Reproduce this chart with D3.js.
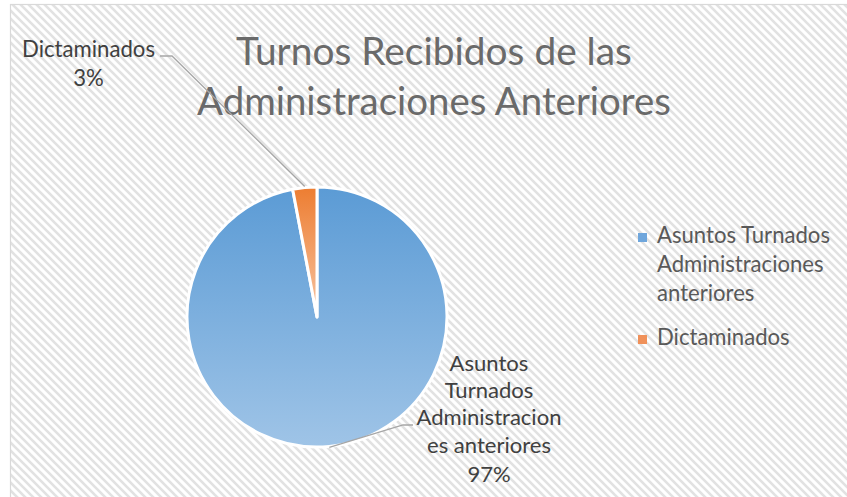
<!DOCTYPE html>
<html>
<head>
<meta charset="utf-8">
<script src="https://cdn.jsdelivr.net/npm/d3@7"></script>
<style>
  html, body { margin: 0; padding: 0; background: #ffffff; }
  svg { display: block; }
  text { font-family: Lato, "Open Sans", sans-serif; }
</style>
</head>
<body>
<svg id="chart" width="847" height="497"></svg>
<script>
// ---- data ----
const categories = ["Asuntos Turnados Administraciones anteriores", "Dictaminados"];
const values = [97, 3];
const titleLines = ["Turnos Recibidos de las", "Administraciones Anteriores"];
const legendLines = [["Asuntos Turnados", "Administraciones", "anteriores"], ["Dictaminados"]];
const labelLines = [["Asuntos", "Turnados", "Administracion", "es anteriores"], ["Dictaminados"]];

// ---- layout ----
const W = 847, H = 497;
const cx = 317, cy = 317, R = 130;
const colorsTop = ["#5b9bd5", "#ed7d31"];
const colorsBot = ["#9fc4e7", "#f7c4a1"];

const svg = d3.select("#chart");
const defs = svg.append("defs");

// hatch pattern
const pat = defs.append("pattern").attr("id", "hatch")
  .attr("patternUnits", "userSpaceOnUse").attr("width", 8).attr("height", 8);
pat.append("rect").attr("width", 8).attr("height", 8).attr("fill", "#ffffff");
pat.append("path").attr("d", "M-2,6 L2,10 M0,0 L8,8 M6,-2 L10,2")
  .attr("stroke", "#e2e2e2").attr("stroke-width", 2.6);

// gradients
categories.forEach((c, i) => {
  const g = defs.append("linearGradient").attr("id", "grad" + i)
    .attr("x1", 0).attr("y1", 0).attr("x2", 0).attr("y2", 1);
  g.append("stop").attr("offset", "0%").attr("stop-color", colorsTop[i]);
  g.append("stop").attr("offset", "100%").attr("stop-color", colorsBot[i]);
});

// background
svg.append("rect").attr("x", 10.5).attr("y", 4.5).attr("width", W + 10).attr("height", H + 10)
  .attr("fill", "url(#hatch)").attr("stroke", "#d9d9d9").attr("stroke-width", 1.2);

function fit(sel, target) {
  const base = 20;
  sel.attr("font-size", base);
  const w = sel.node().getComputedTextLength();
  sel.attr("font-size", base * target / w);
}

// title
const titleWidths = [396, 474];
const titleBase = [65, 115];
titleLines.forEach((t, i) => {
  const s = svg.append("text").attr("x", 434).attr("y", titleBase[i])
    .attr("text-anchor", "middle").attr("fill", "#6a6a6a").text(t);
  fit(s, titleWidths[i]);
});

// pie
const pie = d3.pie().sort(null).value(d => d);
const arcs = pie(values);
const arc = d3.arc().innerRadius(0).outerRadius(R);
const g = svg.append("g").attr("transform", `translate(${cx},${cy})`);
g.selectAll("path").data(arcs).join("path")
  .attr("d", arc)
  .attr("fill", (d, i) => `url(#grad${i})`)
  .attr("stroke", "#ffffff").attr("stroke-width", 3).attr("stroke-linejoin", "round");

// leader lines
const outer = d3.arc().innerRadius(R + 1).outerRadius(R + 1);
const lineColor = "#a6a6a6";
const elbows = [[[403, 425], [413, 425]], [[172, 56], [160, 56]]];
arcs.forEach((d, i) => {
  const c = outer.centroid(d);
  const p0 = [cx + c[0], cy + c[1]];
  svg.append("path")
    .attr("d", d3.line()([p0, elbows[i][0], elbows[i][1]]))
    .attr("fill", "none").attr("stroke", lineColor).attr("stroke-width", 1.3);
});

// data labels
const total = d3.sum(values);
const pct = d3.format(".0%");
const labelColor = "#404040";
const bigX = 489;
const bigBase = [371, 398, 425, 453, 482];
const bigLines = labelLines[0].concat([pct(values[0] / total)]);
const bigTexts = bigLines.map((t, i) => svg.append("text").attr("x", bigX).attr("y", bigBase[i])
    .attr("text-anchor", "middle").attr("fill", labelColor).text(t));
fit(bigTexts[2], 145);
bigTexts.forEach(s => s.attr("font-size", bigTexts[2].attr("font-size")));

const s1 = svg.append("text").attr("x", 88.5).attr("y", 57).attr("text-anchor", "middle")
  .attr("fill", labelColor).text(labelLines[1][0]);
fit(s1, 133);
svg.append("text").attr("x", 88.5).attr("y", 86).attr("text-anchor", "middle")
  .attr("fill", labelColor).attr("font-size", s1.attr("font-size"))
  .text(pct(values[1] / total));

// legend
const legendColors = ["#6fa6dc", "#f0915a"];
const legBase = [[243, 272, 301], [345]];
const legTexts = [];
legendLines.forEach((lines, i) => {
  svg.append("rect").attr("x", 638).attr("y", legBase[i][0] - 10).attr("width", 9).attr("height", 9)
    .attr("fill", legendColors[i]);
  lines.forEach((t, j) => {
    legTexts.push(svg.append("text").attr("x", 657).attr("y", legBase[i][j])
      .attr("fill", "#595959").text(t));
  });
});
fit(legTexts[0], 173);
legTexts.forEach(s => s.attr("font-size", legTexts[0].attr("font-size")));
</script>
</body>
</html>
